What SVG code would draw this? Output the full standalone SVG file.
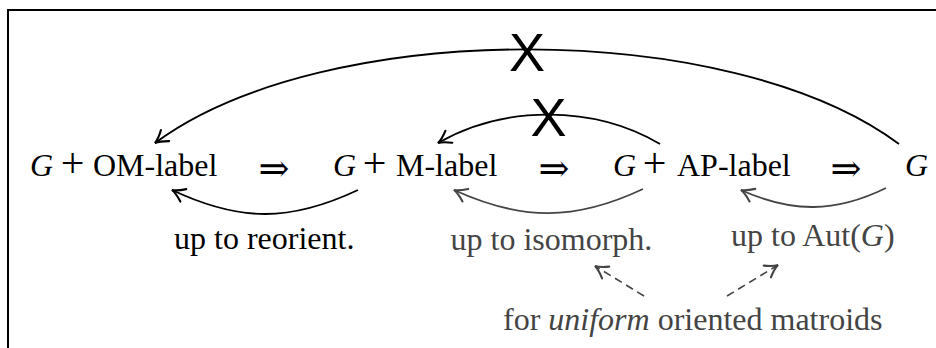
<svg xmlns="http://www.w3.org/2000/svg" width="936" height="348" viewBox="0 0 936 348">
<defs>
<style>
text{font-family:"Liberation Serif","Times New Roman",serif}
.t{font-family:"Liberation Serif","Times New Roman",serif;font-size:32px;fill:#000}
.p{font-family:"Liberation Serif","Times New Roman",serif;font-size:42px;fill:#000;text-anchor:middle}
.a{font-family:"Liberation Serif","DejaVu Serif",serif;font-size:37px;fill:#000;text-anchor:middle}
.g{fill:#444}
.i{font-style:italic}
.x{font-family:"Liberation Sans","DejaVu Sans",sans-serif;font-size:54px;fill:#000;text-anchor:middle}
.c{fill:none;stroke:#000;stroke-width:1.8}
.cg{fill:none;stroke:#444;stroke-width:1.8}
.d{fill:none;stroke:#444;stroke-width:1.6;stroke-dasharray:8 5}
</style>
<marker id="ah" markerUnits="userSpaceOnUse" markerWidth="20" markerHeight="20" viewBox="-12 -8 16 16" refX="0" refY="0" orient="auto">
<path d="M -10 -5.5 Q -4 -1 0 0 Q -4 1 -10 5.5" fill="none" stroke="#000" stroke-width="1.7" stroke-linecap="round"/>
</marker>
<marker id="ahg" markerUnits="userSpaceOnUse" markerWidth="20" markerHeight="20" viewBox="-12 -8 16 16" refX="0" refY="0" orient="auto">
<path d="M -10 -5.5 Q -4 -1 0 0 Q -4 1 -10 5.5" fill="none" stroke="#444" stroke-width="1.7" stroke-linecap="round"/>
</marker>
</defs>
<rect x="8" y="10" width="940" height="350" fill="#fff" stroke="#000" stroke-width="2"/>
<g id="connectors">
<path class="c" d="M 899 144 C 730 18, 324 18, 155 143" marker-end="url(#ah)"/>
<path class="c" d="M 660 144 C 594 105, 504 105, 438 143" marker-end="url(#ah)"/>
<path class="c" d="M 358 190 C 290 222, 240 222, 172 190" marker-end="url(#ah)"/>
<path class="cg" d="M 643 189 C 575 221, 522 221, 454 190" marker-end="url(#ahg)"/>
<path class="cg" d="M 886 188 C 835 213, 792 213, 741 190" marker-end="url(#ahg)"/>
<path class="d" d="M 644 296 L 595 266" marker-end="url(#ahg)"/>
<path class="d" d="M 727 296 L 778 265" marker-end="url(#ahg)"/>
<text class="x" x="527" y="70.5">X</text>
<text class="x" x="548.5" y="136">X</text>
</g>
<g id="om">
<text class="t i" x="30" y="176">G</text>
<text class="p" x="72.5" y="176.5">+</text>
<text class="t" x="93" y="176">OM-label</text>
</g>
<g id="imp1"><text class="a" x="274" y="181">⇒</text></g>
<g id="m">
<text class="t i" x="333" y="176">G</text>
<text class="p" x="374.5" y="176.5">+</text>
<text class="t" x="396" y="176">M-label</text>
</g>
<g id="imp2"><text class="a" x="554" y="181">⇒</text></g>
<g id="ap">
<text class="t i" x="613" y="176">G</text>
<text class="p" x="654.5" y="176.5">+</text>
<text class="t" x="677" y="176">AP-label</text>
</g>
<g id="imp3"><text class="a" x="846" y="181">⇒</text></g>
<g id="g">
<text class="t i" x="905" y="176">G</text>
</g>
<g id="reorient"><text class="t" x="174" y="248.5">up to reorient.</text></g>
<g id="isomorph"><text class="t g" x="450.5" y="249.5">up to isomorph.</text></g>
<g id="aut"><text class="t g" x="731" y="245.5">up to Aut(<tspan class="i">G</tspan>)</text></g>
<g id="uniform"><text class="t g" x="503" y="330">for <tspan class="i">uniform</tspan> oriented matroids</text></g>
</svg>
